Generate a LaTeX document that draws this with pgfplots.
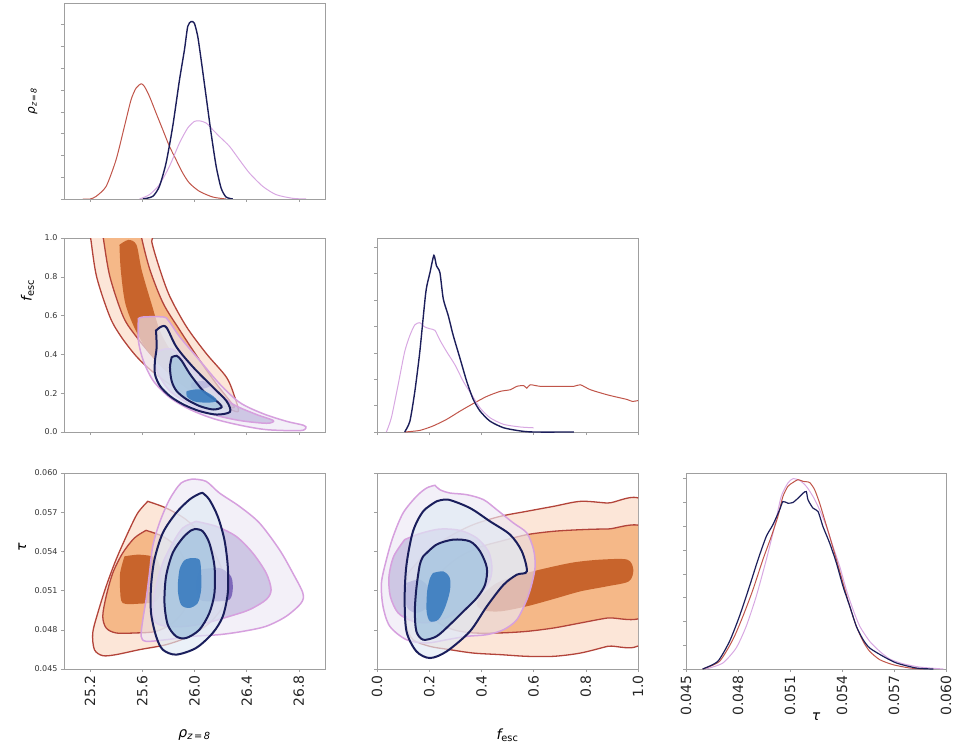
\documentclass[border=0pt]{standalone}
\usepackage{fontspec}
\setmainfont{DejaVu Sans}
\usepackage{pgfplots}
\pgfplotsset{compat=1.18}
\definecolor{redline}{HTML}{B3443A}
\definecolor{redfA}{HTML}{FCE6D8}
\definecolor{redfB}{HTML}{F5B888}
\definecolor{redfC}{HTML}{C8642C}
\definecolor{lavline}{HTML}{D6A0DE}
\definecolor{lavfA}{HTML}{EDE8F4}
\definecolor{lavfB}{HTML}{BBB2DA}
\definecolor{lavfC}{HTML}{6A51B0}
\definecolor{blueline}{HTML}{1A1E5C}
\definecolor{bluefA}{HTML}{E0EAF5}
\definecolor{bluefB}{HTML}{9FC2DE}
\definecolor{bluefC}{HTML}{3A7CBF}
\definecolor{redoned}{HTML}{C0554A}
\definecolor{lavoned}{HTML}{D8A8E2}
\definecolor{blueoned}{HTML}{1C1E5A}
\pgfplotsset{
  corner/.style={scale only axis, width=261pt, height=196pt, anchor=north west,
    axis line style={gray!75}, tick style={gray!75, line width=0.6pt},
    tick align=outside, major tick length=3pt, xtick pos=bottom, ytick pos=left,
    scaled ticks=false, /pgf/number format/assume math mode=true,
    yticklabel style={font=\fontsize{8}{9}\selectfont, text=black!80},
    xticklabel style={font=\fontsize{14}{16}\selectfont, rotate=90, anchor=east, text=black!85},
    label style={font=\fontsize{14}{16}\selectfont}},
  rA/.style={smooth, tension=0.5, fill=redfA, draw=redline, line width=1.3pt},
  rB/.style={smooth, tension=0.5, fill=redfB, draw=redline, line width=1.3pt},
  rC/.style={smooth, tension=0.5, fill=redfC, draw=none},
  lA/.style={smooth, tension=0.5, fill=lavfA, fill opacity=0.65, draw=lavline, draw opacity=1, line width=1.5pt},
  lB/.style={smooth, tension=0.5, fill=lavfB, fill opacity=0.65, draw=lavline, draw opacity=1, line width=1.5pt},
  lC/.style={smooth, tension=0.5, fill=lavfC, fill opacity=0.8, draw=none},
  bA/.style={smooth, tension=0.5, fill=bluefA, fill opacity=0.65, draw=blueline, draw opacity=1, line width=2pt},
  bB/.style={smooth, tension=0.5, fill=bluefB, fill opacity=0.7, draw=blueline, draw opacity=1, line width=2pt},
  bC/.style={smooth, tension=0.5, fill=bluefC, fill opacity=0.9, draw=none},
}
\begin{document}
\begin{tikzpicture}
\useasboundingbox (0pt,0pt) rectangle (955pt,-751pt);
% ---------------- row 1 ----------------
\begin{axis}[corner, at={(64pt,-3pt)}, xmin=25, xmax=27, ymin=0, ymax=9,
  xtick={25.2,25.6,26.0,26.4,26.8}, xticklabels={}, ytick={0,1,...,8}, yticklabels={},
  ylabel={{\itshape ρ}\textsubscript{\itshape z\,=\,8}},
  ylabel style={at={(axis description cs:-0.12,0.5)}, anchor=center, font=\fontsize{12}{14}\selectfont}]
\addplot[redoned, line width=1pt, smooth, tension=0.4] coordinates {(25.144,0)(25.2,0)(25.246,0.12)(25.323,0.58)(25.399,1.80)(25.463,3.33)(25.514,4.56)(25.552,5.09)(25.591,5.29)(25.616,5.17)(25.655,4.71)(25.706,3.94)(25.757,3.18)(25.808,2.42)(25.859,1.80)(25.91,1.19)(25.961,0.73)(26.038,0.35)(26.14,0.09)(26.242,0)};
\addplot[lavoned, line width=1pt, smooth, tension=0.4] coordinates {(25.578,0)(25.655,0.20)(25.731,0.66)(25.808,1.50)(25.885,2.57)(25.948,3.26)(25.999,3.56)(26.038,3.59)(26.089,3.49)(26.14,3.18)(26.191,2.87)(26.268,2.42)(26.344,1.80)(26.421,1.19)(26.523,0.58)(26.625,0.20)(26.753,0.03)(26.855,0)};
\addplot[blueoned, line width=1.4pt, smooth, tension=0.4] coordinates {(25.604,0)(25.68,0.12)(25.731,0.58)(25.782,1.65)(25.833,3.33)(25.885,5.47)(25.923,6.85)(25.948,7.92)(25.974,8.15)(25.999,8.07)(26.025,7.46)(26.051,6.39)(26.089,4.71)(26.127,3.03)(26.166,1.50)(26.204,0.50)(26.242,0.09)(26.293,0)};
\end{axis}
% ---------------- row 2, col 1 ----------------
\begin{axis}[corner, at={(64pt,-238pt)}, height=194pt, xmin=25, xmax=27, ymin=0, ymax=1,
  xtick={25.2,25.6,26.0,26.4,26.8}, xticklabels={}, ytick={0,0.2,...,1.0},
  yticklabel style={/pgf/number format/.cd, fixed, fixed zerofill, precision=1},
  ylabel={{\itshape f}\textsubscript{esc}},
  ylabel style={at={(axis description cs:-0.14,0.73)}, anchor=center}]
\addplot[rA] coordinates {(25.19,1.05)(25.204,1.0)(25.25,0.80)(25.352,0.593)(25.44,0.489)(25.557,0.388)(25.672,0.315)(25.81,0.246)(25.966,0.185)(26.12,0.142)(26.27,0.116)(26.336,0.107)(26.31,0.177)(26.246,0.281)(26.093,0.402)(25.94,0.541)(25.812,0.697)(25.736,0.835)(25.672,0.983)(25.68,1.05)(25.19,1.05)} -- cycle;
\addplot[rB] coordinates {(25.29,1.05)(25.301,1.0)(25.352,0.80)(25.455,0.593)(25.557,0.489)(25.685,0.385)(25.787,0.315)(25.94,0.229)(26.14,0.15)(26.3,0.125)(26.272,0.159)(26.17,0.246)(26.042,0.367)(25.889,0.523)(25.761,0.662)(25.659,0.835)(25.595,1.0)(25.59,1.05)(25.29,1.05)} -- cycle;
\addplot[rC] coordinates {(25.425,0.965)(25.493,0.99)(25.555,0.965)(25.595,0.835)(25.67,0.662)(25.745,0.506)(25.87,0.367)(26.017,0.263)(26.119,0.194)(26.093,0.177)(25.991,0.211)(25.838,0.281)(25.659,0.402)(25.55,0.523)(25.47,0.662)(25.435,0.835)(25.425,0.965)} -- cycle;
\addplot[lA] coordinates {(25.57,0.584)(25.608,0.593)(25.761,0.593)(25.8,0.575)(25.889,0.489)(26.042,0.367)(26.195,0.246)(26.349,0.151)(26.527,0.094)(26.706,0.055)(26.834,0.035)(26.854,0.021)(26.808,0.007)(26.553,0.012)(26.349,0.035)(26.144,0.069)(25.966,0.116)(25.812,0.177)(25.685,0.263)(25.608,0.367)(25.57,0.471)(25.57,0.584)} -- cycle;
\addplot[lB] coordinates {(25.71,0.411)(25.774,0.428)(25.851,0.419)(25.966,0.333)(26.119,0.229)(26.298,0.142)(26.476,0.09)(26.604,0.059)(26.553,0.045)(26.349,0.059)(26.144,0.09)(25.966,0.142)(25.812,0.211)(25.723,0.298)(25.697,0.367)(25.71,0.411)} -- cycle;
\addplot[lC] coordinates {(25.978,0.255)(26.068,0.263)(26.119,0.237)(26.042,0.22)(25.978,0.229)(25.978,0.255)} -- cycle;
\addplot[bA] coordinates {(25.705,0.523)(25.748,0.544)(25.787,0.537)(25.863,0.437)(25.991,0.333)(26.144,0.229)(26.246,0.159)(26.272,0.104)(26.17,0.09)(26.042,0.107)(25.914,0.142)(25.812,0.185)(25.736,0.237)(25.697,0.298)(25.697,0.367)(25.71,0.437)(25.705,0.523)} -- cycle;
\addplot[bB] coordinates {(25.825,0.385)(25.863,0.393)(25.902,0.367)(25.966,0.298)(26.068,0.211)(26.17,0.159)(26.208,0.128)(26.144,0.116)(26.042,0.133)(25.94,0.168)(25.863,0.211)(25.825,0.263)(25.812,0.333)(25.825,0.385)} -- cycle;
\addplot[bC] coordinates {(25.94,0.211)(26.042,0.22)(26.144,0.185)(26.17,0.159)(26.093,0.151)(25.991,0.159)(25.94,0.185)(25.94,0.211)} -- cycle;
\end{axis}
% ---------------- row 2, col 2 ----------------
\begin{axis}[corner, at={(377pt,-238pt)}, height=194pt, xmin=0, xmax=1, ymin=0, ymax=7.35,
  xtick={0,0.2,...,1.0}, xticklabels={}, ytick={0,1,...,7}, yticklabels={}]
\addplot[redoned, line width=1pt, smooth, tension=0.4] coordinates {(0.106,0)(0.164,0.06)(0.215,0.23)(0.267,0.48)(0.318,0.79)(0.369,1.08)(0.421,1.35)(0.472,1.54)(0.51,1.6)(0.536,1.73)(0.562,1.76)(0.574,1.66)(0.587,1.79)(0.626,1.73)(0.69,1.73)(0.754,1.73)(0.779,1.79)(0.818,1.6)(0.882,1.41)(0.933,1.29)(0.959,1.23)(0.978,1.16)(1.0,1.19)};
\addplot[lavoned, line width=1pt, smooth, tension=0.4] coordinates {(0.036,0)(0.055,0.54)(0.081,1.79)(0.106,3.04)(0.126,3.66)(0.145,4.06)(0.164,4.14)(0.183,3.98)(0.203,3.91)(0.222,3.85)(0.241,3.48)(0.267,3.04)(0.299,2.54)(0.331,1.91)(0.363,1.41)(0.395,0.91)(0.433,0.54)(0.485,0.29)(0.549,0.19)(0.6,0.16)};
\addplot[blueoned, line width=1.4pt, smooth, tension=0.4] coordinates {(0.106,0)(0.126,0.41)(0.145,1.54)(0.164,3.04)(0.187,5.29)(0.203,6.04)(0.218,6.69)(0.228,6.29)(0.241,6.04)(0.254,5.04)(0.273,4.41)(0.292,3.66)(0.318,2.79)(0.344,1.91)(0.369,1.23)(0.395,0.79)(0.433,0.41)(0.485,0.16)(0.549,0.04)(0.6,0)(0.754,0)};
\end{axis}
% ---------------- row 3, col 1 ----------------
\begin{axis}[corner, at={(64pt,-473pt)}, xmin=25, xmax=27, ymin=0.045, ymax=0.060,
  xtick={25.2,25.6,26.0,26.4,26.8}, ytick={0.045,0.048,0.051,0.054,0.057,0.060},
  xticklabel style={/pgf/number format/.cd, fixed, fixed zerofill, precision=1},
  yticklabel style={/pgf/number format/.cd, fixed, fixed zerofill, precision=3},
  xlabel={{\itshape ρ}\textsubscript{\itshape z\,=\,8}},
  xlabel style={at={(axis description cs:0.5,-0.337)}, anchor=center},
  ylabel={{\itshape τ}},
  ylabel style={at={(axis description cs:-0.16,0.62)}, anchor=center}]
\addplot[rA] coordinates {(25.642,0.05783)(25.782,0.05732)(25.936,0.05643)(26.089,0.0549)(26.191,0.05311)(26.242,0.05133)(26.217,0.0498)(26.114,0.04852)(25.961,0.0475)(25.782,0.04686)(25.578,0.04648)(25.399,0.0461)(25.297,0.04602)(25.233,0.04648)(25.22,0.04776)(25.259,0.04929)(25.323,0.05133)(25.399,0.05337)(25.489,0.05541)(25.565,0.05694)(25.642,0.05783)} -- cycle;
\addplot[rB] coordinates {(25.629,0.05561)(25.757,0.05515)(25.859,0.05439)(25.923,0.05337)(25.956,0.05209)(25.956,0.05082)(25.923,0.04954)(25.833,0.04852)(25.706,0.04788)(25.552,0.04776)(25.399,0.04776)(25.323,0.04814)(25.297,0.04903)(25.323,0.05056)(25.374,0.05235)(25.45,0.05388)(25.54,0.05503)(25.629,0.05561)} -- cycle;
\addplot[rC] coordinates {(25.463,0.05362)(25.578,0.05375)(25.706,0.05349)(25.744,0.05235)(25.744,0.05107)(25.706,0.05018)(25.578,0.0500)(25.45,0.05005)(25.43,0.05107)(25.43,0.05235)(25.463,0.05362)} -- cycle;
\addplot[lA] coordinates {(25.987,0.05954)(26.089,0.05936)(26.191,0.05847)(26.344,0.05745)(26.498,0.05617)(26.651,0.05413)(26.753,0.05235)(26.83,0.05082)(26.817,0.05005)(26.702,0.04903)(26.549,0.04827)(26.37,0.04788)(26.191,0.04763)(25.987,0.0475)(25.782,0.04724)(25.629,0.04712)(25.591,0.0475)(25.604,0.04878)(25.629,0.05031)(25.655,0.05235)(25.68,0.05439)(25.731,0.05617)(25.808,0.05796)(25.897,0.05923)(25.987,0.05954)} -- cycle;
\addplot[lB] coordinates {(26.012,0.0563)(26.166,0.05592)(26.319,0.05515)(26.446,0.05388)(26.549,0.05235)(26.587,0.05107)(26.549,0.05031)(26.421,0.04954)(26.268,0.04903)(26.089,0.04852)(25.936,0.04827)(25.782,0.04827)(25.693,0.04865)(25.68,0.0498)(25.706,0.05133)(25.757,0.05311)(25.833,0.05464)(25.91,0.05579)(26.012,0.0563)} -- cycle;
\addplot[lC] coordinates {(26.038,0.0526)(26.191,0.05273)(26.28,0.05209)(26.293,0.05107)(26.268,0.05031)(26.166,0.05018)(26.038,0.05031)(26.012,0.05158)(26.038,0.0526)} -- cycle;
\addplot[bA] coordinates {(26.063,0.05847)(26.114,0.05796)(26.178,0.05668)(26.229,0.0549)(26.255,0.05286)(26.255,0.05082)(26.217,0.04903)(26.14,0.04776)(26.012,0.04661)(25.859,0.0461)(25.757,0.04648)(25.706,0.0475)(25.667,0.04929)(25.667,0.05133)(25.693,0.05337)(25.757,0.05541)(25.859,0.05694)(25.961,0.05796)(26.038,0.05842)(26.063,0.05847)} -- cycle;
\addplot[bB] coordinates {(26.012,0.05571)(26.063,0.05554)(26.114,0.05464)(26.153,0.05286)(26.153,0.05082)(26.114,0.04929)(26.038,0.04801)(25.936,0.04737)(25.859,0.0475)(25.795,0.04839)(25.77,0.05005)(25.782,0.05209)(25.833,0.05388)(25.91,0.05503)(25.974,0.05561)(26.012,0.05571)} -- cycle;
\addplot[bC] coordinates {(25.974,0.05349)(26.038,0.05337)(26.051,0.05235)(26.051,0.05107)(26.025,0.05005)(25.961,0.04967)(25.897,0.04992)(25.872,0.05107)(25.885,0.0526)(25.923,0.05332)(25.974,0.05349)} -- cycle;
\end{axis}
% ---------------- row 3, col 2 ----------------
\begin{axis}[corner, at={(377pt,-473pt)}, xmin=0, xmax=1, ymin=0.045, ymax=0.060,
  xtick={0,0.2,...,1.0}, ytick={0.045,0.048,0.051,0.054,0.057,0.060}, yticklabels={},
  xticklabel style={/pgf/number format/.cd, fixed, fixed zerofill, precision=1},
  xlabel={{\itshape f}\textsubscript{esc}},
  xlabel style={at={(axis description cs:0.5,-0.337)}, anchor=center}]
\addplot[rA] coordinates {(0.119,0.05235)(0.19,0.05388)(0.279,0.05515)(0.369,0.05605)(0.472,0.05668)(0.574,0.05707)(0.677,0.05745)(0.779,0.05783)(0.882,0.0577)(1.03,0.05745)(1.03,0.0475)(0.882,0.04673)(0.779,0.04622)(0.677,0.04597)(0.574,0.04597)(0.472,0.0461)(0.369,0.04622)(0.279,0.04648)(0.203,0.04673)(0.138,0.04724)(0.113,0.04827)(0.106,0.0498)(0.113,0.05133)(0.119,0.05235)} -- cycle;
\addplot[rB] coordinates {(0.196,0.0498)(0.209,0.05133)(0.254,0.0526)(0.318,0.05362)(0.395,0.05434)(0.472,0.05477)(0.574,0.05528)(0.677,0.05554)(0.779,0.05566)(0.882,0.05571)(1.03,0.05561)(1.03,0.04929)(0.882,0.0489)(0.779,0.04852)(0.677,0.04814)(0.574,0.04788)(0.472,0.04776)(0.369,0.04776)(0.292,0.04801)(0.228,0.04865)(0.196,0.0498)} -- cycle;
\addplot[rC] coordinates {(0.395,0.05056)(0.459,0.05158)(0.549,0.05222)(0.651,0.05273)(0.754,0.05316)(0.856,0.05337)(0.959,0.05337)(0.982,0.0526)(0.965,0.05171)(0.882,0.05133)(0.779,0.05094)(0.677,0.05036)(0.574,0.0498)(0.472,0.04941)(0.408,0.04949)(0.382,0.04992)(0.395,0.05056)} -- cycle;
\addplot[lA] coordinates {(0.222,0.05906)(0.241,0.05872)(0.279,0.05847)(0.344,0.05834)(0.408,0.05796)(0.459,0.05719)(0.523,0.05617)(0.574,0.05541)(0.6,0.05413)(0.606,0.05286)(0.594,0.05158)(0.574,0.05031)(0.536,0.04878)(0.485,0.04801)(0.421,0.04763)(0.344,0.0475)(0.267,0.04724)(0.19,0.04699)(0.113,0.04724)(0.049,0.04827)(0.023,0.0498)(0.017,0.05158)(0.036,0.05337)(0.062,0.05515)(0.1,0.05694)(0.151,0.05821)(0.19,0.05885)(0.222,0.05906)} -- cycle;
\addplot[lB] coordinates {(0.106,0.0549)(0.164,0.05536)(0.241,0.05571)(0.318,0.05561)(0.382,0.05503)(0.427,0.054)(0.44,0.05286)(0.433,0.05184)(0.395,0.05069)(0.344,0.0498)(0.279,0.04903)(0.203,0.04857)(0.138,0.04865)(0.081,0.04929)(0.051,0.05056)(0.046,0.05209)(0.064,0.05362)(0.106,0.0549)} -- cycle;
\addplot[lC] coordinates {(0.113,0.05158)(0.164,0.05184)(0.203,0.05107)(0.196,0.0498)(0.151,0.04929)(0.113,0.0498)(0.113,0.05158)} -- cycle;
\addplot[bA] coordinates {(0.228,0.05783)(0.273,0.05796)(0.356,0.05732)(0.433,0.0563)(0.51,0.05528)(0.555,0.054)(0.574,0.05247)(0.536,0.05222)(0.485,0.05145)(0.421,0.0498)(0.356,0.04788)(0.267,0.04635)(0.203,0.04584)(0.151,0.04635)(0.113,0.04788)(0.106,0.05043)(0.113,0.05298)(0.138,0.05554)(0.177,0.05707)(0.228,0.05783)} -- cycle;
\addplot[bB] coordinates {(0.177,0.05362)(0.228,0.05452)(0.292,0.0549)(0.356,0.05477)(0.395,0.054)(0.421,0.05273)(0.414,0.05145)(0.382,0.05043)(0.331,0.04941)(0.279,0.04839)(0.228,0.0475)(0.177,0.04724)(0.151,0.04788)(0.145,0.04941)(0.151,0.0512)(0.164,0.05298)(0.177,0.05362)} -- cycle;
\addplot[bC] coordinates {(0.215,0.05235)(0.254,0.05247)(0.279,0.05196)(0.279,0.05094)(0.26,0.04967)(0.235,0.04878)(0.203,0.04865)(0.19,0.04941)(0.192,0.05094)(0.203,0.05196)(0.215,0.05235)} -- cycle;
\end{axis}
% ---------------- row 3, col 3 ----------------
\begin{axis}[corner, at={(686pt,-473pt)}, width=260pt, xmin=0.045, xmax=0.060, ymin=0, ymax=8.24,
  xtick={0.045,0.048,0.051,0.054,0.057,0.060}, ytick={0,1,...,8}, yticklabels={},
  xticklabel style={/pgf/number format/.cd, fixed, fixed zerofill, precision=3},
  xlabel={{\itshape τ}},
  xlabel style={at={(axis description cs:0.5,-0.245)}, anchor=center}]
\addplot[lavoned, line width=1pt, smooth, tension=0.4] coordinates {(0.04616,0)(0.04712,0.25)(0.04789,0.88)(0.04847,1.79)(0.04905,3.05)(0.04963,4.59)(0.05011,5.99)(0.05049,7.25)(0.05088,7.82)(0.05117,8.0)(0.05156,7.93)(0.05194,7.68)(0.05233,7.25)(0.05271,6.69)(0.0531,5.99)(0.05348,5.15)(0.05387,4.31)(0.05425,3.33)(0.05464,2.49)(0.05503,1.79)(0.0556,1.16)(0.05618,0.74)(0.05676,0.42)(0.05753,0.22)(0.0585,0.08)(0.05985,0)};
\addplot[redoned, line width=1pt, smooth, tension=0.4] coordinates {(0.04596,0)(0.04693,0.32)(0.0477,1.23)(0.04828,2.21)(0.04886,3.33)(0.04943,4.59)(0.04992,5.57)(0.0503,6.41)(0.05059,7.25)(0.05088,7.68)(0.05117,7.84)(0.05146,7.96)(0.05175,7.89)(0.05213,7.84)(0.05242,7.54)(0.05271,6.97)(0.053,6.27)(0.05329,5.57)(0.05368,4.59)(0.05406,3.61)(0.05445,2.63)(0.05483,1.79)(0.05522,1.16)(0.0556,0.74)(0.05618,0.39)(0.05695,0.18)(0.05792,0.04)(0.05869,0)};
\addplot[blueoned, line width=1.2pt, smooth, tension=0.4] coordinates {(0.04596,0)(0.04683,0.32)(0.04751,1.16)(0.04808,2.21)(0.04866,3.47)(0.04915,4.59)(0.04963,5.57)(0.05001,6.06)(0.0504,6.69)(0.05059,7.04)(0.05088,6.97)(0.05117,7.0)(0.05146,7.18)(0.05175,7.39)(0.05194,7.46)(0.05204,7.11)(0.05233,6.76)(0.05262,6.62)(0.0529,5.99)(0.05329,5.29)(0.05368,4.45)(0.05406,3.47)(0.05445,2.63)(0.05483,1.79)(0.05522,1.23)(0.0556,0.88)(0.05638,0.53)(0.05715,0.25)(0.0583,0.04)(0.05927,0)};
\end{axis}
\end{tikzpicture}
\end{document}
